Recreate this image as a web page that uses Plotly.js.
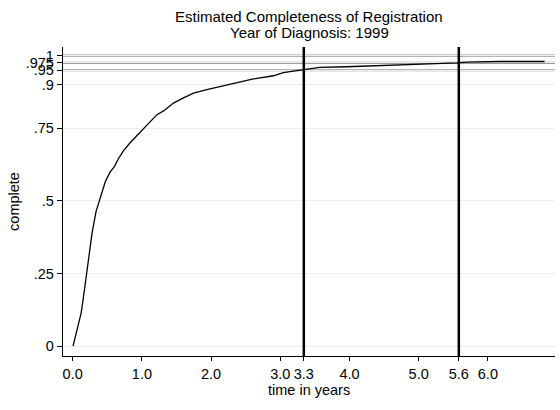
<!DOCTYPE html>
<html>
<head>
<meta charset="utf-8">
<script src="https://cdn.plot.ly/plotly-3.0.1.min.js"></script>
<style>html,body{margin:0;padding:0;background:#fff;}#chart{width:560px;height:410px;}</style>
</head>
<body>
<div id="chart"></div>
<script>
const timeYears = [0.005,0.063,0.121,0.15,0.183,0.198,0.231,0.245,0.28,0.337,0.4,0.472,0.544,0.602,0.664,0.736,0.833,0.938,1.01,1.12,1.218,1.313,1.457,1.579,1.746,1.939,2.131,2.372,2.612,2.9,3.045,3.238,3.33,3.57,3.96,4.49,4.97,5.55,5.69,6.17,6.82];
const complete = [0,0.055,0.113,0.159,0.216,0.25,0.308,0.342,0.389,0.463,0.515,0.567,0.601,0.618,0.647,0.673,0.701,0.728,0.745,0.773,0.797,0.81,0.837,0.852,0.871,0.883,0.894,0.906,0.92,0.931,0.942,0.949,0.952,0.96,0.962,0.966,0.969,0.975,0.978,0.98,0.98];
const refY = [1,0.975,0.95];
const refX = [3.34,5.58];
const xTickVals = [0,1,2,3,refX[0],4,5,refX[1],6];
const xTickText = ["0.0","1.0","2.0","3.0","3.3","4.0","5.0","5.6","6.0"];
const yTickVals = [0,0.25,0.5,0.75,0.9,0.95,0.975,1];
const yTickText = ["0",".25",".5",".75",".9",".95",".975","1"];
const titleLines = ["Estimated Completeness of Registration","Year of Diagnosis: 1999"];
const xTitle = "time in years";
const yTitle = "complete";

const fam = "Liberation Sans, Arial, sans-serif";
const font = {family:fam, size:14.5, color:"#000"};
const tickFont = {family:fam, size:14.5, color:"#000"};
const shapes = [];
refY.forEach(v => shapes.push({type:"line", xref:"paper", x0:0, x1:1, yref:"y", y0:v, y1:v, line:{color:"#999999", width:2.2}, layer:"below"}));
refX.forEach(v => shapes.push({type:"line", yref:"paper", y0:0, y1:1, xref:"x", x0:v, x1:v, line:{color:"#000", width:2.5}}));

const annotations = titleLines.map((t,i) => ({
  text:t, xref:"paper", x:0.5, xanchor:"center", yref:"paper", y:[1.1003,1.0485][i], yanchor:"middle",
  showarrow:false, font:{family:fam, size:15, color:"#000"}
}));
annotations.push({text:xTitle, xref:"paper", x:0.5, xanchor:"center", yref:"paper", y:-0.111, yanchor:"middle", showarrow:false, font:font});

Plotly.newPlot("chart", [{
  x: timeYears, y: complete, type:"scatter", mode:"lines",
  line:{color:"#000", width:1.3}, hoverinfo:"skip"
}], {
  width:560, height:410,
  margin:{l:63, r:5, t:47, b:54},
  paper_bgcolor:"#fff", plot_bgcolor:"#fff",
  font: font,
  showlegend:false,
  annotations: annotations,
  xaxis:{range:[-0.14,6.97], tickvals:xTickVals, ticktext:xTickText, tickangle:0, ticks:"outside", ticklen:4, tickcolor:"#000", showgrid:false, zeroline:false, showline:true, linecolor:"#000", linewidth:1.2, tickfont:tickFont},
  yaxis:{range:[-0.034,1.03], tickvals:yTickVals, ticktext:yTickText, tickangle:0, ticks:"outside", ticklen:5, tickcolor:"#000", showgrid:true, gridcolor:"#e8eff1", gridwidth:1, zeroline:false, showline:true, linecolor:"#000", linewidth:1.2, tickfont:tickFont, title:{text:yTitle, font:font, standoff:2}},
  shapes: shapes
}, {staticPlot:true, displayModeBar:false});
</script>
</body>
</html>
